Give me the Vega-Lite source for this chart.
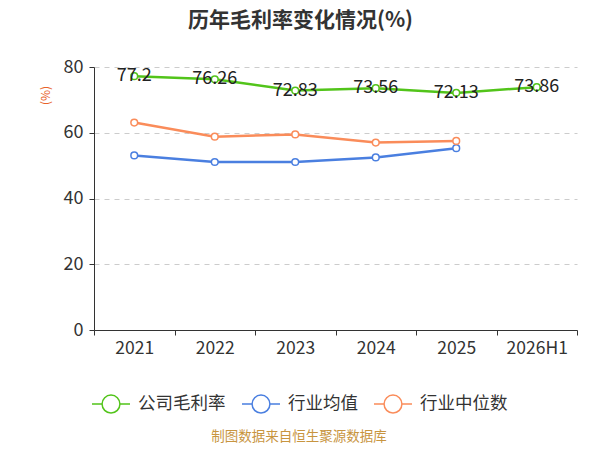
{
  "$schema": "https://vega.github.io/schema/vega-lite/v6.json",
  "width": 483,
  "height": 263,
  "autosize": {"type": "none"},
  "padding": {"left": 94, "top": 67, "right": 23, "bottom": 120},
  "title": {
    "text": "历年毛利率变化情况(%)",
    "fontSize": 21,
    "fontWeight": "bold",
    "color": "#333333",
    "dx": -35,
    "offset": 27
  },
  "data": {
    "values": [
      {"year": "2021", "series": "公司毛利率", "value": 77.2},
      {"year": "2022", "series": "公司毛利率", "value": 76.26},
      {"year": "2023", "series": "公司毛利率", "value": 72.83},
      {"year": "2024", "series": "公司毛利率", "value": 73.56},
      {"year": "2025", "series": "公司毛利率", "value": 72.13},
      {"year": "2026H1", "series": "公司毛利率", "value": 73.86},
      {"year": "2021", "series": "行业均值", "value": 53.1},
      {"year": "2022", "series": "行业均值", "value": 51.1},
      {"year": "2023", "series": "行业均值", "value": 51.1},
      {"year": "2024", "series": "行业均值", "value": 52.5},
      {"year": "2025", "series": "行业均值", "value": 55.3},
      {"year": "2021", "series": "行业中位数", "value": 63.1},
      {"year": "2022", "series": "行业中位数", "value": 58.8},
      {"year": "2023", "series": "行业中位数", "value": 59.5},
      {"year": "2024", "series": "行业中位数", "value": 57.0},
      {"year": "2025", "series": "行业中位数", "value": 57.5}
    ]
  },
  "encoding": {
    "x": {
      "field": "year",
      "type": "ordinal",
      "sort": null,
      "scale": {"type": "band", "paddingInner": 0, "paddingOuter": 0},
      "axis": {
        "title": null,
        "labelAngle": 0,
        "tickBand": "extent",
        "labelFontSize": 17.5,
        "labelColor": "#333333",
        "labelPadding": 4,
        "domainColor": "#333333",
        "tickColor": "#333333",
        "tickSize": 5,
        "grid": false
      }
    },
    "y": {
      "field": "value",
      "type": "quantitative",
      "scale": {"domain": [0, 80]},
      "axis": {
        "title": "(%)",
        "titleColor": "#e8622a",
        "titleFontSize": 12,
        "titleFontWeight": "normal",
        "titleX": -49,
        "titleY": 28,
        "titleAlign": "center",
        "titleBaseline": "middle",
        "values": [0, 20, 40, 60, 80],
        "labelFontSize": 18,
        "labelColor": "#333333",
        "labelPadding": 6,
        "domainColor": "#333333",
        "tickColor": "#333333",
        "tickSize": 5,
        "gridColor": "#cccccc",
        "gridDash": [5, 5]
      }
    },
    "color": {
      "field": "series",
      "type": "nominal",
      "scale": {
        "domain": ["公司毛利率", "行业均值", "行业中位数"],
        "range": ["#52c41a", "#4a7fe0", "#fa8c5a"]
      },
      "legend": {
        "orient": "none",
        "legendX": -3,
        "legendY": 317,
        "direction": "horizontal",
        "title": "制图数据来自恒生聚源数据库",
        "titleOrient": "bottom",
        "titleAnchor": "middle",
        "titleFontSize": 13.5,
        "titleColor": "#c8953f",
        "titleFontWeight": "normal",
        "titlePadding": 14,
        "labelFontSize": 17.5,
        "labelColor": "#333333",
        "labelOffset": 7,
        "columnPadding": 13,
        "symbolType": "M-1,0L-0.47,0M0.47,0L1,0M0.47,0A0.47,0.47,0,1,1,-0.47,0A0.47,0.47,0,1,1,0.47,0",
        "symbolSize": 1444,
        "symbolStrokeWidth": 1.5,
        "symbolFillColor": "white",
        "encode": {"symbols": {"update": {"fill": {"value": "white"}}}}
      }
    }
  },
  "layer": [
    {"mark": {"type": "line", "strokeWidth": 2.5}},
    {"mark": {"type": "point", "fill": "white", "filled": false, "size": 45, "strokeWidth": 1.5, "opacity": 1}},
    {
      "transform": [{"filter": "datum.series === '公司毛利率'"}],
      "mark": {"type": "text", "fontSize": 18, "dy": 0},
      "encoding": {
        "text": {"field": "value", "type": "nominal"},
        "color": {"value": "#222222"}
      }
    }
  ],
  "config": {
    "font": "Noto Sans CJK SC",
    "view": {"stroke": null}
  }
}
